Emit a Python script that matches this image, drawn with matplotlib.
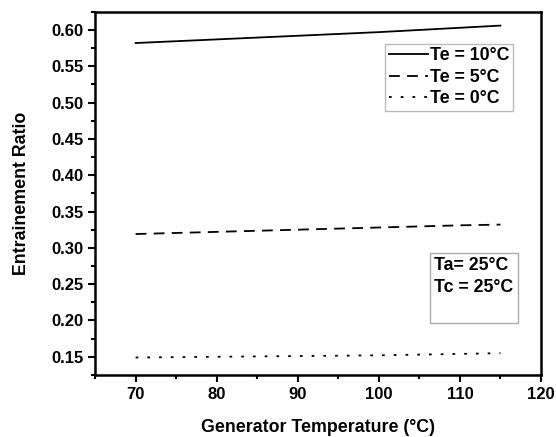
import matplotlib
matplotlib.use("Agg")
import matplotlib.pyplot as plt
from matplotlib.ticker import MultipleLocator

plt.rcParams['font.family'] = ['Liberation Sans', 'DejaVu Sans']
plt.rcParams['font.weight'] = 'bold'

gen_temp = [70, 80, 90, 100, 110, 115]
te10 = [0.582, 0.587, 0.592, 0.597, 0.603, 0.606]
te5 = [0.319, 0.322, 0.325, 0.328, 0.331, 0.332]
te0 = [0.149, 0.150, 0.151, 0.152, 0.154, 0.155]

fig = plt.figure(figsize=(5.56, 4.37), dpi=100)
ax = fig.add_axes([0.171, 0.142, 0.802, 0.831])

ax.plot(gen_temp, te10, color='black', lw=1.3, ls='-', label='Te = 10°C')
ax.plot(gen_temp, te5, color='black', lw=1.3, ls=(0, (6, 4)), label='Te = 5°C')
ax.plot(gen_temp, te0, color='black', lw=1.3, ls=(0, (1.5, 5)), label='Te = 0°C')

ax.set_xlim(65, 120)
ax.set_ylim(0.125, 0.625)
ax.xaxis.set_major_locator(MultipleLocator(10))
ax.xaxis.set_minor_locator(MultipleLocator(5))
ax.yaxis.set_major_locator(MultipleLocator(0.05))
ax.yaxis.set_minor_locator(MultipleLocator(0.025))
ax.yaxis.set_major_formatter(plt.FormatStrFormatter('%.2f'))

for s in ax.spines.values():
    s.set_linewidth(1.8)
ax.tick_params(which='major', direction='out', length=5, width=1.5, labelsize=12)
ax.tick_params(which='minor', direction='out', length=3, width=1.5)

ax.set_xlabel('Generator Temperature (°C)', fontsize=12.8, fontweight='bold', labelpad=12.5)
ax.set_ylabel('Entrainement Ratio', fontsize=12.8, fontweight='bold', labelpad=15)

leg = ax.legend(loc='upper right', bbox_to_anchor=(0.937, 0.912), fontsize=12.8,
                frameon=True, fancybox=False, handlelength=2.2, handletextpad=0.1,
                borderpad=0.2, labelspacing=0.25, borderaxespad=0)
leg.get_frame().set_edgecolor('#aaaaaa')
leg.get_frame().set_linewidth(1.0)

ax.text(0.76, 0.24, 'Ta= 25°C\nTc = 25°C\n', transform=ax.transAxes, fontsize=12.8,
        fontweight='bold', va='center', ha='left', linespacing=1.4,
        bbox=dict(boxstyle='square,pad=0.25', fc='white', ec='#aaaaaa', lw=1.0))

fig.savefig('out.png', dpi=100)
